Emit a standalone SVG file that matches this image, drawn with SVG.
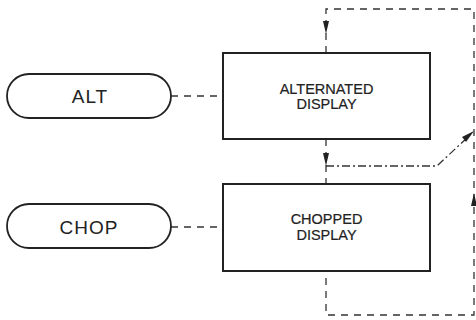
<svg xmlns="http://www.w3.org/2000/svg" width="476" height="320" viewBox="0 0 476 320">
<defs>
<style>
.box{fill:#fff;stroke:#222;stroke-width:2}
.pill{fill:#fff;stroke:#222;stroke-width:1.8}
.t{font-family:"Liberation Sans",Arial,sans-serif;fill:#222;text-anchor:middle}
.big{font-size:19px;letter-spacing:1px}
.sm{font-size:14.5px;stroke:#222;stroke-width:0.2}
.dash{fill:none;stroke:#333;stroke-width:1.3;stroke-dasharray:7 6}
.dd{fill:none;stroke:#333;stroke-width:1.3;stroke-dasharray:8 3 2 3}
.ah{fill:#222}
</style>
</defs>
<rect width="476" height="320" fill="#fff"/>
<g id="connectors">
<line class="dash" x1="171" y1="96" x2="223" y2="96"/>
<line class="dash" x1="171" y1="227" x2="223" y2="227"/>
<path class="dash" d="M326,53 L326,9 L474,9 L474,315 L326,315 L326,271"/>
<path class="ah" d="M323,21 L326,34 L329,21 Z"/>
<line class="dash" x1="326" y1="139" x2="326" y2="184"/>
<path class="ah" d="M323,153 L326,166 L329,153 Z"/>
<path class="dd" d="M326,166 L437,166 L470,135"/>
<path class="ah" d="M462,137 L474,131 L466,142 Z"/>
<path class="ah" d="M471,206 L474,193 L477,206 Z"/>
</g>
<g id="alt">
<rect class="pill" x="7" y="74" width="164" height="44" rx="22" ry="22"/>
<text class="t big" x="90" y="103">ALT</text>
</g>
<g id="chop">
<rect class="pill" x="7" y="204" width="164" height="44" rx="22" ry="22"/>
<text class="t big" x="89" y="234">CHOP</text>
</g>
<g id="alternated">
<rect class="box" x="223" y="53" width="207" height="86"/>
<text class="t sm" x="326.5" y="94">ALTERNATED</text>
<text class="t sm" x="326.5" y="109">DISPLAY</text>
</g>
<g id="chopped">
<rect class="box" x="223" y="184" width="207" height="87"/>
<text class="t sm" x="326.5" y="224">CHOPPED</text>
<text class="t sm" x="326.5" y="240">DISPLAY</text>
</g>
</svg>
